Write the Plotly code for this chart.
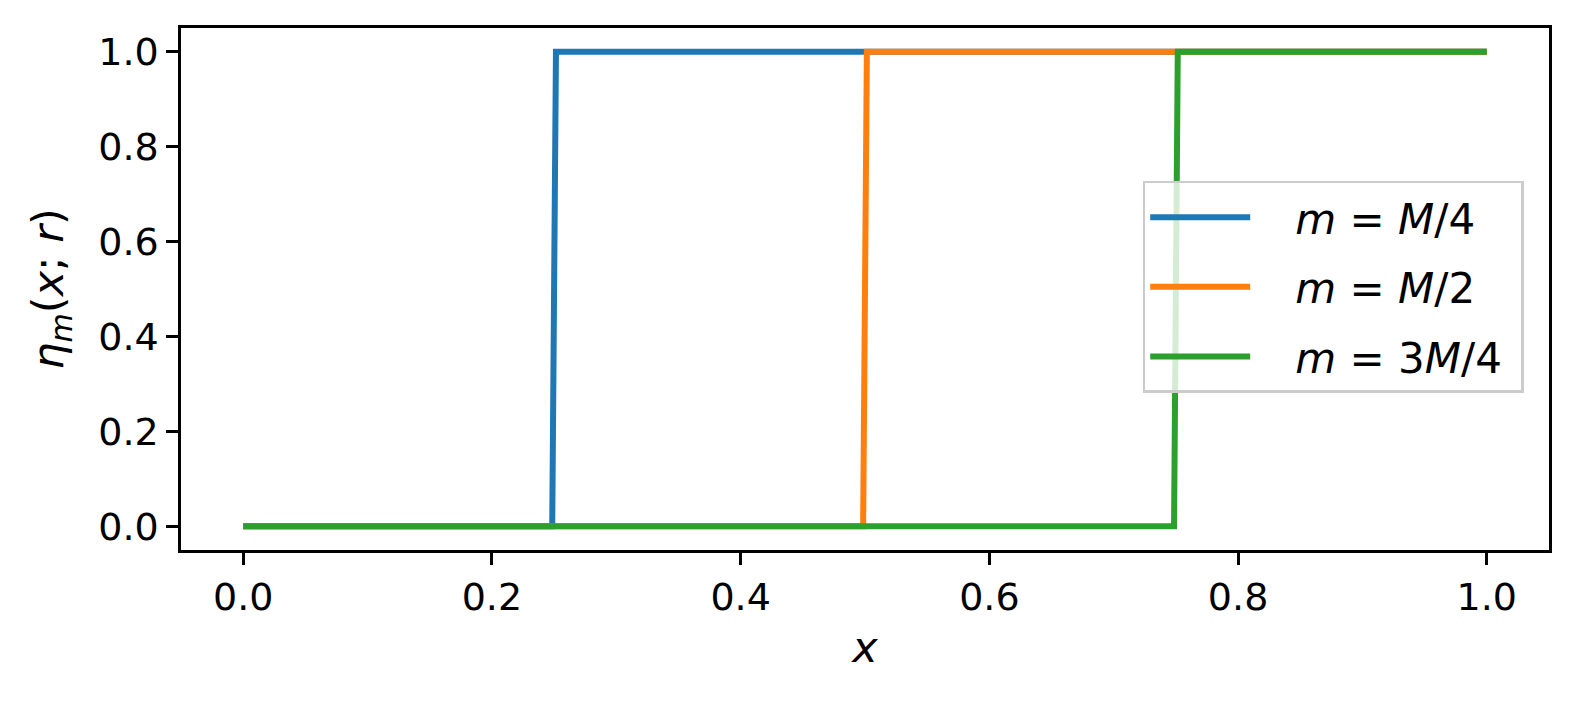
import plotly.graph_objects as go

# step functions eta_m(x; r): breakpoints
x_quarter = [0.0, 0.2485, 0.2515, 1.0]
x_half = [0.0, 0.4985, 0.5015, 1.0]
x_three_quarter = [0.0, 0.7485, 0.7515, 1.0]
eta_steps = [0, 0, 1, 1]

series_names = ["<i>m</i> = <i>M</i>/4", "<i>m</i> = <i>M</i>/2", "<i>m</i> = 3<i>M</i>/4"]
series_x = [x_quarter, x_half, x_three_quarter]
colors = ["#1f77b4", "#ff7f0e", "#2ca02c"]

tick_vals = [0.0, 0.2, 0.4, 0.6, 0.8, 1.0]
tick_text = ["0.0", "0.2", "0.4", "0.6", "0.8", "1.0"]

fig = go.Figure()
for i, (name, xs) in enumerate(zip(series_names, series_x)):
    fig.add_trace(go.Scatter(
        x=xs, y=eta_steps, mode="lines",
        name="\u00a0\u00a0\u00a0" + name + "\u00a0",
        line=dict(color=colors[i], width=6),
        legendgroup=f"g{i}",
    ))

axis_common = dict(
    showline=True, mirror=True, linecolor="black", linewidth=2.5,
    ticks="outside", ticklen=12, tickwidth=2.5, tickcolor="black",
    showgrid=False, zeroline=False,
    tickfont=dict(family="DejaVu Sans", size=38, color="black"),
    tickvals=tick_vals, ticktext=tick_text,
)

# page body has an 8px margin, so the figure is shrunk and margins shifted
fig.update_layout(
    width=1571, height=694,
    margin=dict(l=173, r=30, t=20, b=152),
    plot_bgcolor="white", paper_bgcolor="white",
    xaxis=dict(range=[-0.05, 1.05],
               title=dict(text="<i>x</i>", standoff=14,
                          font=dict(family="DejaVu Sans", size=43, color="black")),
               **axis_common),
    yaxis=dict(range=[-0.05, 1.05],
               title=dict(text="<i>η</i><sub><i>m</i></sub>(<i>x</i>; <i>r</i>)", standoff=22,
                          font=dict(family="DejaVu Sans", size=43, color="black")),
               **axis_common),
    legend=dict(
        x=0.703, y=0.707, xanchor="left", yanchor="top",
        bgcolor="rgba(255,255,255,0.8)", bordercolor="#cccccc", borderwidth=2.5,
        font=dict(family="DejaVu Sans", size=42, color="black"),
        itemwidth=100, traceorder="grouped", tracegroupgap=12,
    ),
)

fig.write_html("out.html")
